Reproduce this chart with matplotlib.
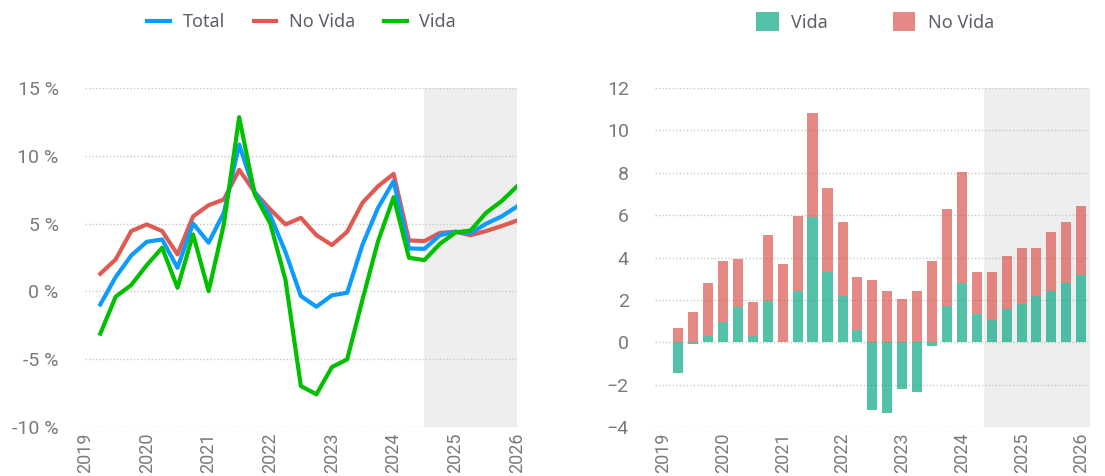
import pandas as pd
import matplotlib
matplotlib.use('Agg')
import matplotlib.pyplot as plt
import matplotlib.dates as mdates
from matplotlib.lines import Line2D
from matplotlib.patches import Patch
from matplotlib.ticker import FuncFormatter

# Quarterly data, 2019Q2 .. 2026Q1
dates = pd.date_range('2019-04-01', periods=28, freq='QS')

# Left panel: growth rates (%)
total = [-0.96, 1.06, 2.65, 3.66, 3.83, 1.74, 5.01, 3.59, 5.80, 10.84, 7.32, 5.60,
         2.90, -0.34, -1.13, -0.29, -0.10, 3.46, 6.17, 8.13, 3.17, 3.14, 4.15, 4.40,
         4.30, 4.99, 5.53, 6.27]
no_vida = [1.30, 2.36, 4.45, 4.94, 4.45, 2.73, 5.53, 6.36, 6.78, 8.97, 7.32, 6.05,
           4.94, 5.43, 4.15, 3.42, 4.40, 6.54, 7.76, 8.67, 3.76, 3.71, 4.32, 4.40,
           4.15, 4.45, 4.82, 5.23]
vida = [-3.12, -0.39, 0.47, 1.94, 3.22, 0.27, 4.20, 0.02, 4.94, 12.85, 7.15, 5.00,
        0.85, -6.98, -7.59, -5.58, -5.01, -0.59, 3.71, 6.95, 2.48, 2.31, 3.51, 4.35,
        4.50, 5.80, 6.66, 7.76]

# Right panel: contributions (pp)
vida_c = [-1.47, -0.09, 0.30, 0.94, 1.67, 0.31, 1.95, 0.0, 2.44, 5.92, 3.31, 2.19,
          0.56, -3.19, -3.34, -2.22, -2.36, -0.20, 1.69, 2.78, 1.31, 1.05, 1.58, 1.80,
          2.19, 2.44, 2.81, 3.19]
no_vida_c = [0.69, 1.44, 2.50, 2.89, 2.25, 1.60, 3.10, 3.69, 3.50, 4.89, 3.99, 3.47,
             2.52, 2.94, 2.42, 2.05, 2.42, 3.83, 4.62, 5.27, 2.00, 2.26, 2.48, 2.64,
             2.25, 2.75, 2.89, 3.26]

years = pd.date_range('2019-01-01', '2026-01-01', freq='YS')

tick_color = '#7a7a7a'
text_color = '#5c6067'
plt.rcParams['font.family'] = ['Roboto', 'DejaVu Sans']

fig = plt.figure(figsize=(11.05, 4.76), dpi=100)
ax1 = fig.add_axes([0.077, 0.103, 0.391, 0.712])
ax2 = fig.add_axes([0.593, 0.103, 0.393, 0.712])

for ax in (ax1, ax2):
    for s in ax.spines.values():
        s.set_visible(False)
    ax.set_axisbelow(True)
    ax.grid(axis='y', linestyle=(0, (1, 1.5)), color='#c8c8c8', linewidth=1)
    ax.tick_params(length=0, colors=tick_color, labelsize=14)
    ax.set_xticks(years)
    ax.xaxis.set_major_formatter(mdates.DateFormatter('%Y'))
    for lab in ax.get_xticklabels():
        lab.set_rotation(90)
        lab.set_fontsize(13)
    ax.tick_params(axis='y', pad=19)
    ax.tick_params(axis='x', pad=4)

# Left: lines
ax1.axvspan(pd.Timestamp('2024-07-01'), pd.Timestamp('2026-01-01'), color='#eeeeee', zorder=0, lw=0)
ax1.plot(dates, no_vida, color='#e05a54', lw=3, zorder=3)
ax1.plot(dates, total, color='#0d9bff', lw=3, zorder=4)
ax1.plot(dates, vida, color='#00c000', lw=3, zorder=5)
ax1.set_xlim(pd.Timestamp('2019-01-01'), pd.Timestamp('2026-01-01'))
ax1.set_ylim(-10, 15)
ax1.set_yticks(range(-10, 16, 5))
ax1.yaxis.set_major_formatter(FuncFormatter(lambda v, p: f'{v:.0f} %'))

# Right: stacked bars
ax2.axvspan(pd.Timestamp('2024-05-16'), pd.Timestamp('2026-02-20'), color='#eeeeee', zorder=0, lw=0)
bottoms = [max(v, 0) for v in vida_c]
ax2.bar(dates, vida_c, width=62, color='#00a37f', alpha=0.67, zorder=2)
ax2.bar(dates, no_vida_c, bottom=bottoms, width=62, color='#d85048', alpha=0.67, zorder=2)
ax2.set_xlim(pd.Timestamp('2018-11-12'), pd.Timestamp('2026-02-20'))
ax2.set_ylim(-4, 12)
ax2.set_yticks(range(-4, 13, 2))

# Legends
h1 = [Line2D([], [], color='#0d9bff', lw=3),
      Line2D([], [], color='#e05a54', lw=3),
      Line2D([], [], color='#00c000', lw=3)]
leg1 = fig.legend(h1, ['Total', 'No Vida', 'Vida'], loc='center', bbox_to_anchor=(0.273, 0.954),
                  ncol=3, frameon=False, handlelength=1.25, handletextpad=0.7,
                  columnspacing=1.6, prop={'family': 'Noto Sans', 'size': 13})
h2 = [Patch(color='#00a37f', alpha=0.67, lw=0), Patch(color='#d85048', alpha=0.67, lw=0)]
leg2 = fig.legend(h2, ['Vida', 'No Vida'], loc='center', bbox_to_anchor=(0.792, 0.954),
                  ncol=2, frameon=False, handlelength=1.25, handleheight=1.25,
                  handletextpad=0.7, columnspacing=3.6,
                  prop={'family': 'Noto Sans', 'size': 13})
for leg in (leg1, leg2):
    for t in leg.get_texts():
        t.set_color(text_color)

fig.savefig('out.png', dpi=100)
